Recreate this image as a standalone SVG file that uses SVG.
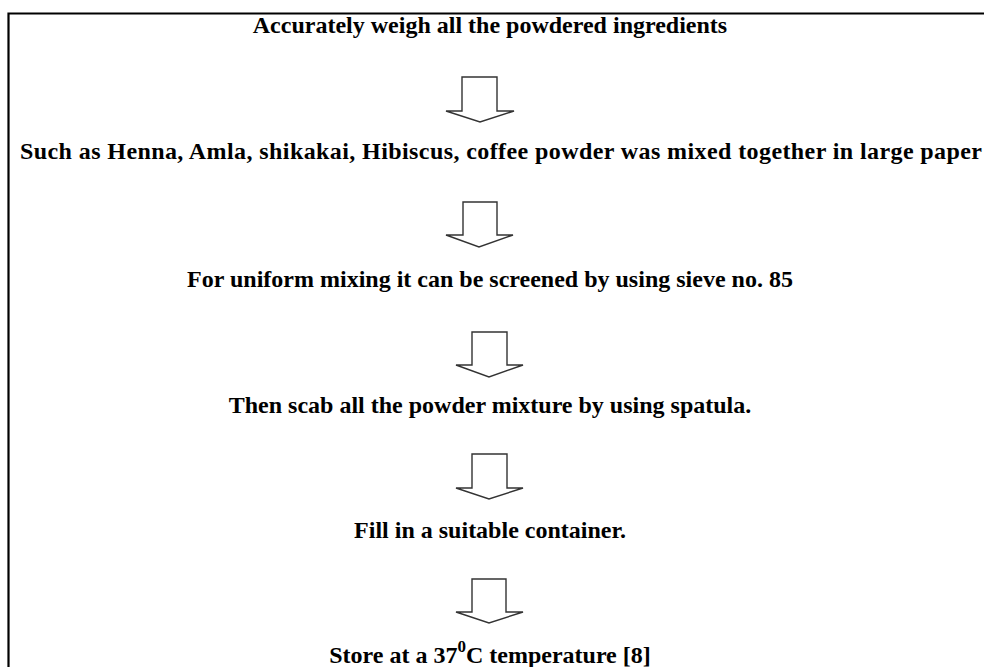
<svg xmlns="http://www.w3.org/2000/svg" width="984" height="667" viewBox="0 0 984 667">
<style>
.t{font-family:"Liberation Serif","Times New Roman",serif;font-weight:bold;font-size:24px;fill:#000;text-anchor:middle}
.a{fill:#fff;stroke:#333;stroke-width:1.4;stroke-linejoin:miter}
</style>
<rect x="0" y="0" width="984" height="667" fill="#fff"/>
<path d="M8.5,670 V13.5 H990" fill="none" stroke="#000" stroke-width="2.2"/>
<g id="n1"><text class="t" x="490" y="33">Accurately weigh all the powdered ingredients</text></g>
<g id="n2"><text class="t" x="20" y="159" style="text-anchor:start" textLength="962" lengthAdjust="spacing">Such as Henna, Amla, shikakai, Hibiscus, coffee powder was mixed together in large paper</text></g>
<g id="n3"><text class="t" x="490" y="287">For uniform mixing it can be screened by using sieve no. 85</text></g>
<g id="n4"><text class="t" x="490" y="413">Then scab all the powder mixture by using spatula.</text></g>
<g id="n5"><text class="t" x="490" y="538">Fill in a suitable container.</text></g>
<g id="n6"><text class="t" x="490" y="663">Store at a 37<tspan font-size="17" dy="-11">0</tspan><tspan dy="11">C temperature [8]</tspan></text></g>
<g id="connectors">
<polygon class="a" points="462,77 497,77 497,111 514,111 480,122 446,111 462,111"/>
<polygon class="a" points="463,202 497,202 497,235 513,235 479,247 446,235 463,235"/>
<polygon class="a" points="472,332 507,332 507,365 523,365 489,377 456,365 472,365"/>
<polygon class="a" points="472,454 507,454 507,488 523,488 489,499 456,488 472,488"/>
<polygon class="a" points="472,579 506,579 506,612 523,612 489,623 456,612 472,612"/>
</g>
</svg>
